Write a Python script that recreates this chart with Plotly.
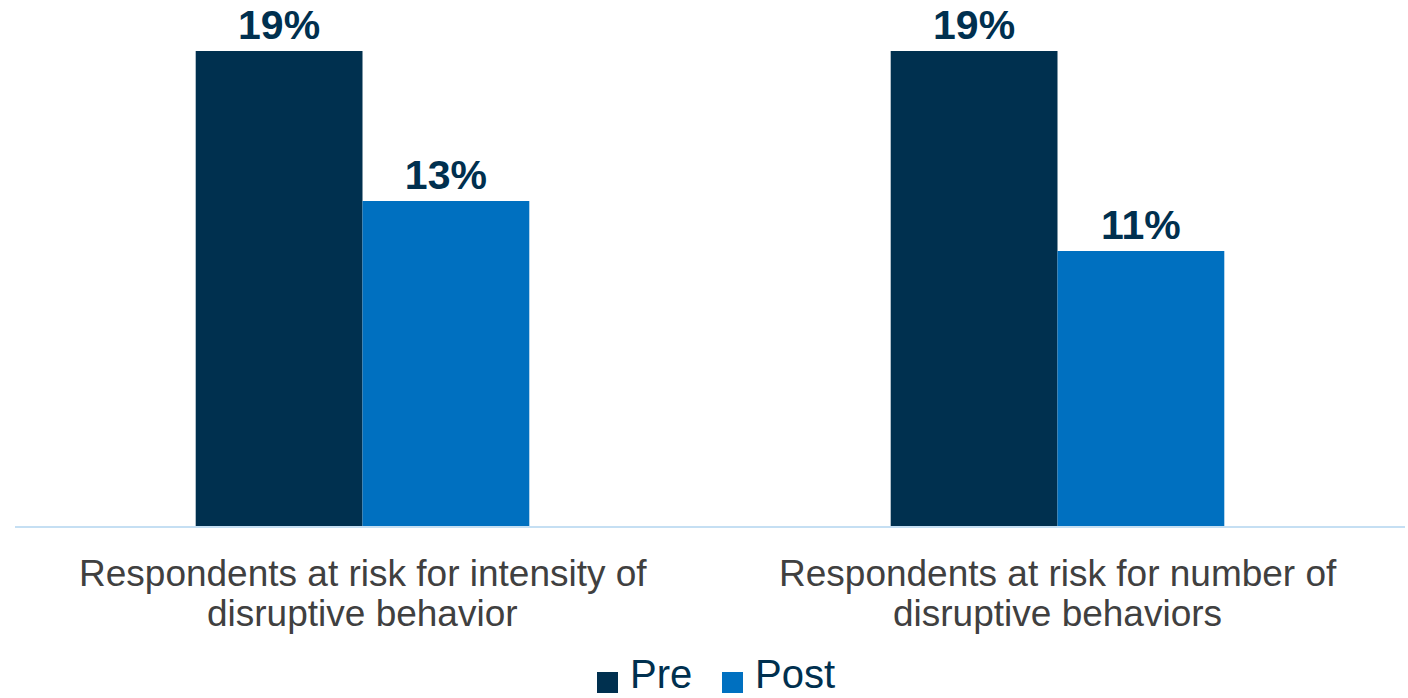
import plotly.graph_objects as go

categories = ["Respondents at risk for intensity of<br>disruptive behavior",
              "Respondents at risk for number of<br>disruptive behaviors"]
series_names = ["Pre", "Post"]
pre_values = [19, 19]
post_values = [13, 11]
colors = ["#00304F", "#0070C0"]

W, H = 1408, 698
L, R, T, B = 15, 3, 26, 172
PW, PH = W - L - R, H - T - B
FONT = "Liberation Sans, Arial"


def px_x(px):
    return (px - L) / PW


def px_y(py):
    return (H - B - py) / PH


fig = go.Figure()
for name, vals, col in zip(series_names, [pre_values, post_values], colors):
    fig.add_trace(go.Bar(
        x=categories, y=vals, name=name, marker=dict(color=col, line=dict(width=0)),
        text=[f"{v}%" for v in vals], textposition="outside",
        textfont=dict(family=FONT, size=41, color="#00304F", weight="bold"),
        cliponaxis=False, showlegend=False,
    ))

annotations = []
# category labels (two lines each)
for cat in categories:
    for i, line in enumerate(cat.split("<br>")):
        annotations.append(dict(
            x=cat, xref="x", y=px_y(573 + 40 * i), yref="paper",
            text=line, showarrow=False, xanchor="center", yanchor="middle",
            font=dict(family=FONT, size=37, color="#404040"),
        ))

# custom legend
legend_sq_x = [597, 722]
legend_tx_x = [628, 753]
shapes = []
for name, col, sx, tx in zip(series_names, colors, legend_sq_x, legend_tx_x):
    shapes.append(dict(type="rect", xref="paper", yref="paper",
                       x0=px_x(sx), x1=px_x(sx + 21), y0=px_y(693), y1=px_y(672),
                       fillcolor=col, line=dict(width=0)))
    annotations.append(dict(
        x=px_x(tx), xref="paper", y=px_y(674), yref="paper", text=name,
        showarrow=False, xanchor="left", yanchor="middle",
        font=dict(family=FONT, size=40, color="#00304F"),
    ))

fig.update_layout(
    width=W, height=H,
    margin=dict(l=L, r=R, t=T, b=B, autoexpand=False),
    barmode="group", bargap=0.52, bargroupgap=0,
    plot_bgcolor="white", paper_bgcolor="white",
    font=dict(family=FONT, color="#404040"),
    xaxis=dict(showline=True, linecolor="#C5DFF3", linewidth=2, ticks="",
               showticklabels=False, showgrid=False, automargin=False),
    yaxis=dict(range=[0, 20], visible=False, showgrid=False, zeroline=False),
    showlegend=False,
    annotations=annotations, shapes=shapes,
)
fig.write_html("out.html", config={"displayModeBar": False},
               post_script="document.body.style.margin='0px';document.body.style.overflow='hidden';")
